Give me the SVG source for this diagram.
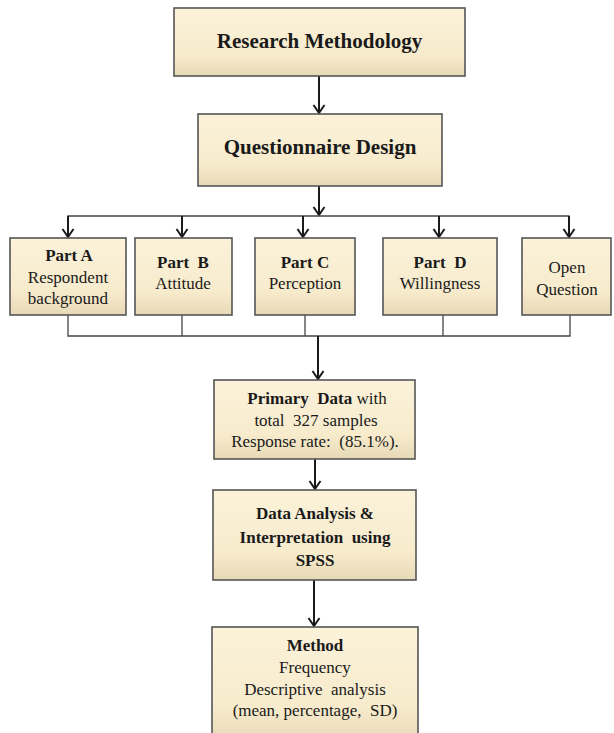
<svg xmlns="http://www.w3.org/2000/svg" width="614" height="733" viewBox="0 0 614 733">
<defs>
<linearGradient id="g" x1="0" y1="0" x2="0" y2="1">
<stop offset="0" stop-color="#FBF2DA"/>
<stop offset="0.7" stop-color="#F7EBCC"/>
<stop offset="1" stop-color="#E6D9B6"/>
</linearGradient>
<marker id="ah" viewBox="0 0 14 14" refX="12" refY="7" markerWidth="14" markerHeight="14" markerUnits="userSpaceOnUse" orient="auto">
<path d="M4,1.5 L12,7 L4,12.5" fill="none" stroke="#1a1a1a" stroke-width="2"/>
</marker>
</defs>
<style>
.box{fill:url(#g);stroke:#555;stroke-width:1.6}
text{font-family:"Liberation Serif","Times New Roman",serif;font-size:17px;fill:#1a1a1a;text-anchor:middle}
.b{font-weight:bold}
.big{font-size:21px;font-weight:bold}
.arr{stroke:#1a1a1a;stroke-width:2;fill:none}
.ln{stroke:#444;stroke-width:1.3;fill:none}
</style>
<rect width="614" height="733" fill="#fff"/>
<g id="connectors">
<line class="arr" x1="319" y1="76" x2="319" y2="113" marker-end="url(#ah)"/>
<line class="arr" x1="319" y1="186" x2="319" y2="215" marker-end="url(#ah)"/>
<polyline class="ln" points="68,237 68,216 569,216 569,237"/>
<line class="arr" x1="68" y1="216" x2="68" y2="237" marker-end="url(#ah)"/>
<line class="arr" x1="182" y1="216" x2="182" y2="237" marker-end="url(#ah)"/>
<line class="arr" x1="303" y1="216" x2="303" y2="237" marker-end="url(#ah)"/>
<line class="arr" x1="439" y1="216" x2="439" y2="237" marker-end="url(#ah)"/>
<line class="arr" x1="569" y1="216" x2="569" y2="237" marker-end="url(#ah)"/>
<polyline class="ln" points="68,315 68,336 570,336 570,315"/>
<line class="ln" x1="182" y1="315" x2="182" y2="336"/>
<line class="ln" x1="305" y1="315" x2="305" y2="336"/>
<line class="ln" x1="443" y1="315" x2="443" y2="336"/>
<line class="arr" x1="318" y1="336" x2="318" y2="379" marker-end="url(#ah)"/>
<line class="arr" x1="315" y1="459" x2="315" y2="489" marker-end="url(#ah)"/>
<line class="arr" x1="314" y1="580" x2="314" y2="626" marker-end="url(#ah)"/>
</g>
<g id="research-methodology">
<rect class="box" x="174" y="8" width="291" height="68"/>
<text class="big" x="319.5" y="48">Research Methodology</text>
</g>
<g id="questionnaire-design">
<rect class="box" x="198" y="114" width="244" height="72"/>
<text class="big" x="320" y="154">Questionnaire Design</text>
</g>
<g id="part-a">
<rect class="box" x="10" y="238" width="116" height="77"/>
<text class="b" x="69" y="261">Part A</text>
<text x="68" y="283">Respondent</text>
<text x="68" y="304">background</text>
</g>
<g id="part-b">
<rect class="box" x="135" y="238" width="97" height="77"/>
<text class="b" x="183" y="268" xml:space="preserve">Part  B</text>
<text x="183" y="289">Attitude</text>
</g>
<g id="part-c">
<rect class="box" x="255" y="238" width="100" height="77"/>
<text class="b" x="305" y="268">Part C</text>
<text x="305" y="289">Perception</text>
</g>
<g id="part-d">
<rect class="box" x="383" y="238" width="114" height="77"/>
<text class="b" x="440" y="268" xml:space="preserve">Part  D</text>
<text x="440" y="289">Willingness</text>
</g>
<g id="open-question">
<rect class="box" x="522" y="238" width="89" height="77"/>
<text x="567" y="273">Open</text>
<text x="567" y="295">Question</text>
</g>
<g id="primary-data">
<rect class="box" x="214" y="380" width="201" height="79"/>
<text x="317" y="404" xml:space="preserve"><tspan class="b">Primary  Data</tspan> with</text>
<text x="316" y="426" xml:space="preserve">total  327 samples</text>
<text x="315" y="447" xml:space="preserve">Response rate:  (85.1%).</text>
</g>
<g id="data-analysis">
<rect class="box" x="213" y="490" width="203" height="90"/>
<text class="b" x="315" y="519">Data Analysis &amp;</text>
<text class="b" x="315" y="543" xml:space="preserve">Interpretation  using</text>
<text class="b" x="315" y="566">SPSS</text>
</g>
<g id="method">
<rect class="box" x="212" y="627" width="206" height="115"/>
<text class="b" x="315" y="651">Method</text>
<text x="315" y="673">Frequency</text>
<text x="315" y="695" xml:space="preserve">Descriptive  analysis</text>
<text x="315" y="716" xml:space="preserve">(mean, percentage,  SD)</text>
</g>
</svg>
